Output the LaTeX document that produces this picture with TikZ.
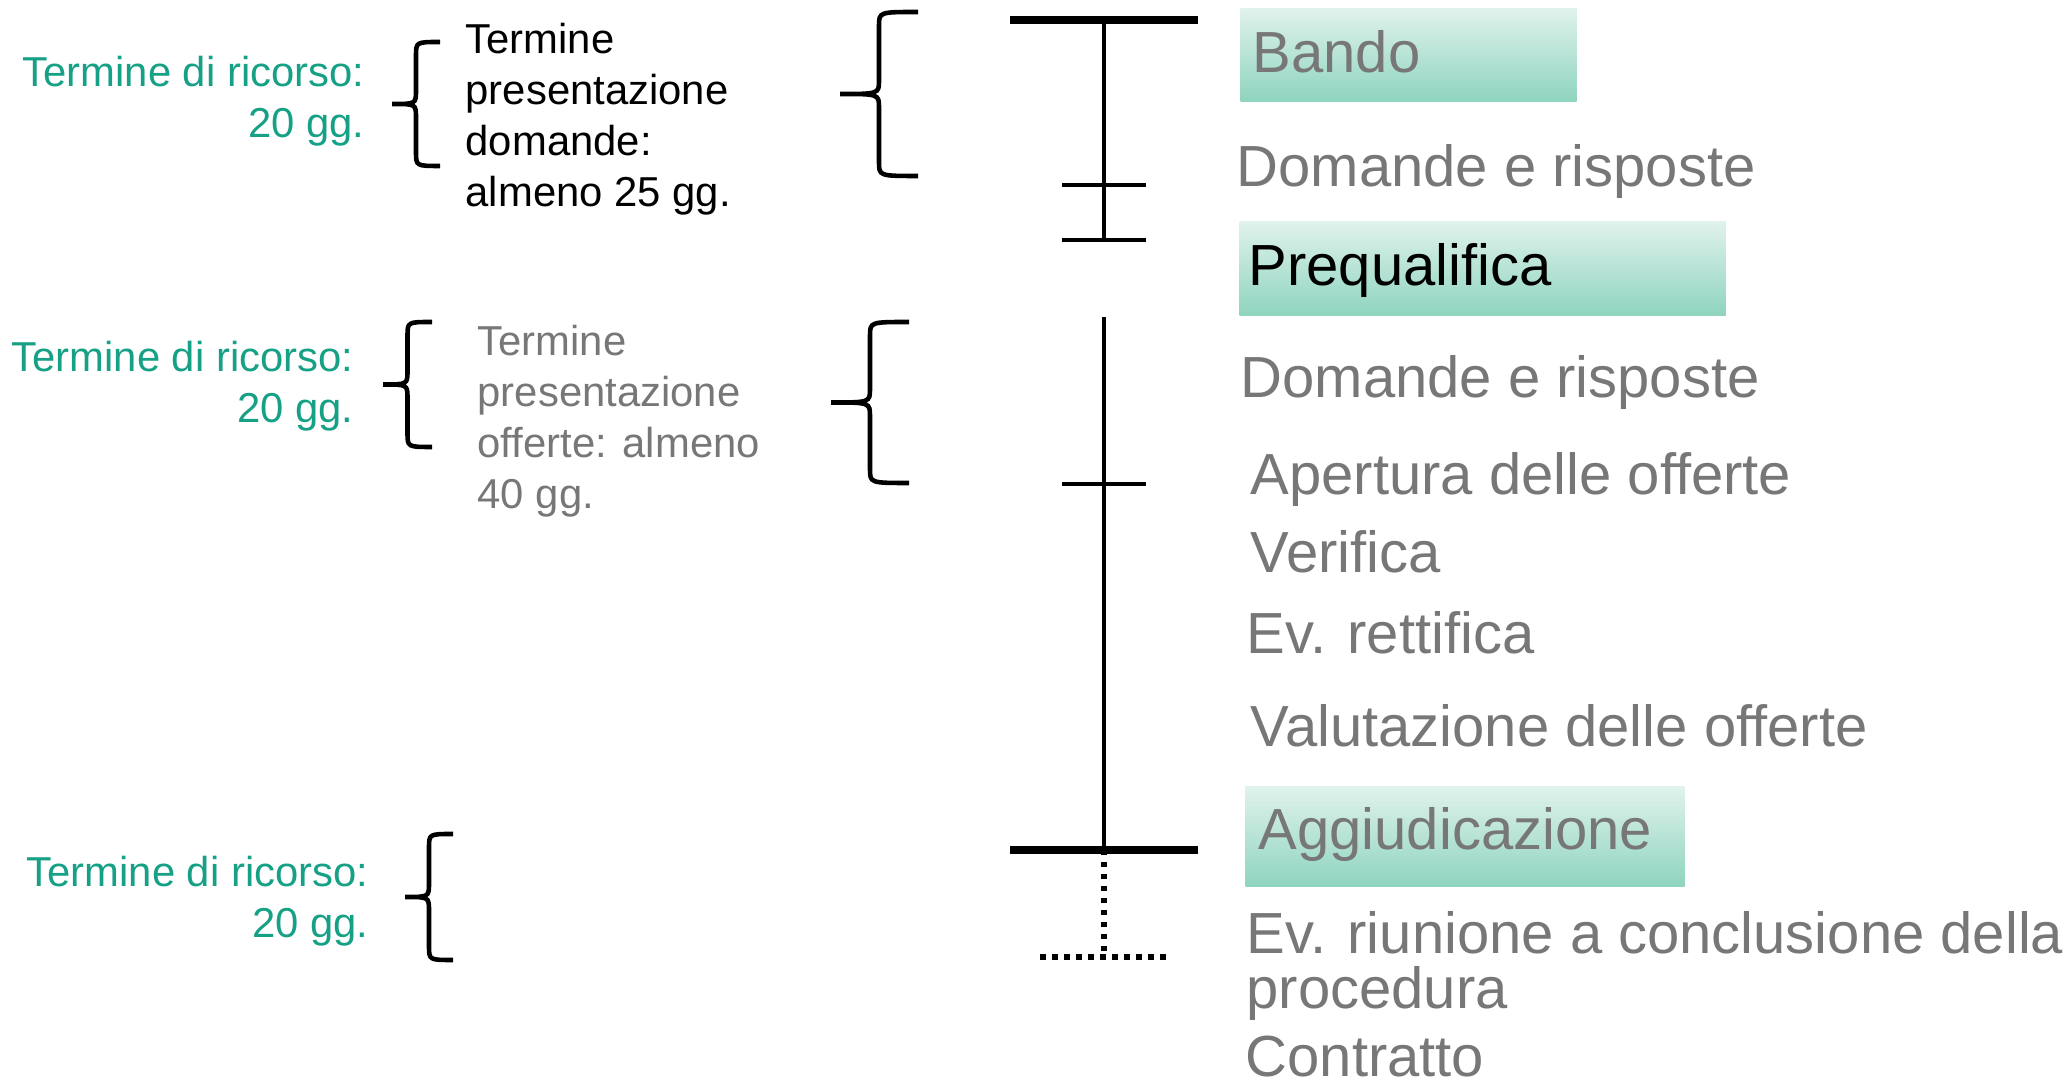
\documentclass[tikz,border=0pt]{standalone}
\usepackage{fontspec}
\setmainfont{Liberation Sans}
\definecolor{verde}{HTML}{16A085}
\definecolor{grigio}{HTML}{777777}
\definecolor{fasesu}{HTML}{E0F2EC}
\definecolor{fasegiu}{HTML}{8ED4BF}
\tikzset{
  piccolo/.style={inner sep=0pt, font=\fontsize{11.9}{14.6}\selectfont},
  grande/.style={inner sep=0pt, anchor=base west, text=grigio, align=left,
    font=\fontsize{16.5}{15.9}\selectfont},
  fase/.style={anchor=north west, inner ysep=0pt, align=left, text=grigio,
    top color=fasesu, bottom color=fasegiu, draw=none,
    font=\fontsize{16.5}{19}\selectfont},
  asse/.style={line width=1.15pt},
  barra/.style={line width=2.3pt},
  punti/.style={line width=1.55pt, dash pattern=on 0.055cm off 0.065cm},
  graffa/.style={line width=1.3pt}
}
% brace: x, y top, y bottom, depth
\newcommand{\graffa}[4]{%
  \draw[graffa] (#1,#2) .. controls ({#1-#4/2},#2) .. ({#1-#4/2},{#2-0.14})
    -- ({#1-#4/2},{((#2)+(#3))/2+0.14}) .. controls ({#1-#4/2},{((#2)+(#3))/2}) .. ({#1-#4},{((#2)+(#3))/2})
    .. controls ({#1-#4/2},{((#2)+(#3))/2}) .. ({#1-#4/2},{((#2)+(#3))/2-0.14})
    -- ({#1-#4/2},{#3+0.14}) .. controls ({#1-#4/2},#3) .. (#1,#3);}
\begin{document}
\begin{tikzpicture}
\useasboundingbox (0,0) rectangle (20.72,-10.81);

% termini di ricorso
\node[piccolo, text=verde, anchor=base east, align=right] (R1) at (3.65,-1.38) {Termine di ricorso:\\20 gg.};
\node[piccolo, text=verde, anchor=base east, align=right] (R2) at (3.54,-4.23) {Termine di ricorso:\\20 gg.};
\node[piccolo, text=verde, anchor=base east, align=right] (R3) at (3.69,-9.38) {Termine di ricorso:\\20 gg.};

% termini di presentazione
\node[piccolo, anchor=base west, align=left] (P1) at (4.65,-2.07) {Termine\\presentazione\\domande:\\almeno 25 gg.};
\node[piccolo, text=grigio, anchor=base west, align=left] (P2) at (4.77,-5.09) {Termine\\presentazione\\offerte: almeno\\40 gg.};

\graffa{4.40}{-0.42}{-1.66}{0.48}
\graffa{9.18}{-0.12}{-1.76}{0.78}
\graffa{4.32}{-3.22}{-4.47}{0.49}
\graffa{9.09}{-3.22}{-4.83}{0.78}
\graffa{4.53}{-8.34}{-9.60}{0.48}

% asse dei tempi
\coordinate (A1) at (10.10,-0.20);
\coordinate (A2) at (11.98,-0.20);
\coordinate (V1) at (11.04,-0.20);
\coordinate (V2) at (11.04,-2.40);
\coordinate (K1) at (10.62,-1.85);
\coordinate (K2) at (11.46,-1.85);
\coordinate (K3) at (10.62,-2.40);
\coordinate (K4) at (11.46,-2.40);
\coordinate (V3) at (11.04,-3.17);
\coordinate (V4) at (11.04,-8.50);
\coordinate (K5) at (10.62,-4.84);
\coordinate (K6) at (11.46,-4.84);
\coordinate (B1) at (10.10,-8.50);
\coordinate (B2) at (11.98,-8.50);
\coordinate (V5) at (11.04,-9.53);
\coordinate (C1) at (10.40,-9.57);
\coordinate (C2) at (11.68,-9.57);

\draw[barra] (A1) -- (A2);
\draw[asse] (V1) -- (V2);
\draw[asse] (K1) -- (K2);
\draw[asse] (K3) -- (K4);
\draw[asse] (V3) -- (V4);
\draw[asse] (K5) -- (K6);
\draw[barra] (B1) -- (B2);
\draw[punti] (V4) -- (V5);
\draw[punti] (C1) -- (C2);

% fasi
\node[fase, inner xsep=0.12cm, text width=3.12cm, text height=0.64cm, text depth=0.29cm] (F1) at (12.40,-0.08) {Bando};
\node[grande] (F2) at (12.36,-1.87) {Domande e risposte};
\node[fase, text=black, inner xsep=0.09cm, text width=4.68cm, text height=0.64cm, text depth=0.30cm] (F3) at (12.39,-2.21) {Prequalifica};
\node[grande] (F4) at (12.40,-3.98) {Domande e risposte};
\node[grande] (F5) at (12.50,-4.95) {Apertura delle offerte};
\node[grande] (F6) at (12.50,-5.73) {Verifica};
\node[grande] (F7) at (12.46,-6.54) {Ev. rettifica};
\node[grande] (F8) at (12.50,-7.47) {Valutazione delle offerte};
\node[fase, inner xsep=0.13cm, text width=4.13cm, text height=0.63cm, text depth=0.37cm] (F9) at (12.45,-7.86) {Aggiudicazione};
\node[grande] (F10) at (12.46,-10.09) {Ev. riunione a conclusione della\\procedura};
\node[grande] (F11) at (12.45,-10.77) {Contratto};
\end{tikzpicture}
\end{document}
